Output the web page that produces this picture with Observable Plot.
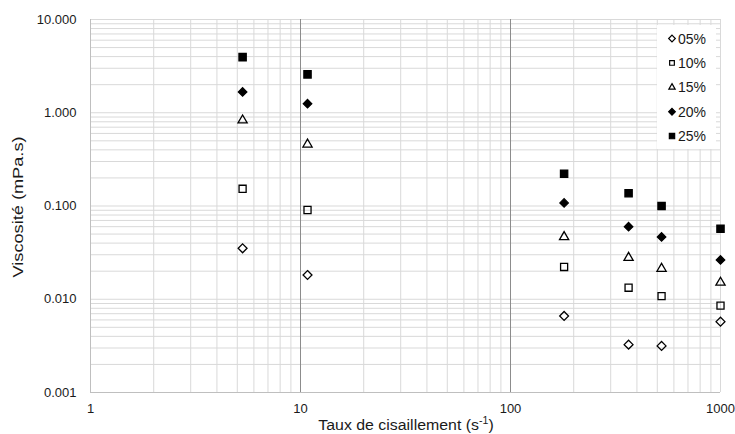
<!DOCTYPE html>
<html><head><meta charset="utf-8">
<script src="https://cdn.jsdelivr.net/npm/d3@7"></script>
<script src="https://cdn.jsdelivr.net/npm/@observablehq/plot@0.6"></script>
<style>
body{margin:0;background:#fff;font-family:"Liberation Sans",Arial,sans-serif;}
#wrap{position:relative;width:735px;height:434px;}
</style></head><body><div id="wrap"></div>
<script>
// ---- data ----
const shearRates = [5.3, 10.8, 180, 365, 524, 1000];
const seriesNames = ["05%", "10%", "15%", "20%", "25%"];
const visc05 = [0.0352, 0.0182, 0.00662, 0.00326, 0.00316, 0.00575];
const visc10 = [0.153, 0.0906, 0.0222, 0.0133, 0.0108, 0.00855];
const visc15 = [0.83, 0.458, 0.0466, 0.0279, 0.0213, 0.0151];
const visc20 = [1.67, 1.25, 0.108, 0.060, 0.0466, 0.0264];
const visc25 = [3.95, 2.58, 0.222, 0.137, 0.100, 0.0571];
const xTicks = [1, 10, 100, 1000];
const xTickLabels = ["1", "10", "100", "1000"];
const yTicks = [0.001, 0.01, 0.1, 1, 10];
const yTickLabels = ["0.001", "0.010", "0.100", "1.000", "10.000"];
const yTitle = "Viscosité (mPa.s)";
const xTitleMain = "Taux de cisaillement (s";
const xTitleSup = "-1";

// ---- styles ----
const styles = {
  "05%": {symbol: "diamond2", fill: "none", r: 4.0},
  "10%": {symbol: "square2", fill: "none", r: 4.5},
  "15%": {symbol: "triangle2", fill: "none", r: 4.4},
  "20%": {symbol: "diamond2", fill: "black", r: 3.8},
  "25%": {symbol: "square", fill: "black", r: 4.1}
};
const seriesValues = [visc05, visc10, visc15, visc20, visc25];
const rows = [];
seriesNames.forEach((s, i) => shearRates.forEach((x, j) => rows.push({series: s, x, y: seriesValues[i][j]})));

// grid helpers (derived from tick decades)
const xMinor = [], yMinor = [];
xTicks.slice(0, -1).forEach(d => d3.range(2, 10).forEach(k => xMinor.push(d * k)));
yTicks.slice(0, -1).forEach(d => d3.range(2, 10).forEach(k => yMinor.push(d * k)));

const xLab = new Map(xTicks.map((t, i) => [t, xTickLabels[i]]));
const yLab = new Map(yTicks.map((t, i) => [t, yTickLabels[i]]));

const light = "#d9d9d9";
const dark = "#8c8c8c";

const chart = Plot.plot({
  width: 735,
  height: 434,
  marginLeft: 90,
  marginRight: 15,
  marginTop: 19,
  marginBottom: 42,
  style: {fontFamily: "'Liberation Sans', Arial, sans-serif", fontSize: "13px", color: "#1a1a1a", background: "white"},
  x: {type: "log", domain: [1, 1000]},
  y: {type: "log", domain: [0.001, 10]},
  marks: [
    Plot.ruleY(yMinor, {stroke: light, strokeWidth: 1}),
    Plot.ruleY(yTicks, {stroke: light, strokeWidth: 1}),
    Plot.ruleX(xMinor, {stroke: light, strokeWidth: 1}),
    Plot.ruleX(xTicks.slice(-1), {stroke: light, strokeWidth: 1}),
    Plot.ruleX(xTicks.slice(1, -1), {stroke: dark, strokeWidth: 1}),
    Plot.ruleX(xTicks.slice(0, 1), {stroke: "#bfbfbf", strokeWidth: 1}),
    Plot.ruleY(yTicks.slice(0, 1), {stroke: "#bfbfbf", strokeWidth: 1}),
    Plot.axisX({ticks: xTicks, tickFormat: d => xLab.get(d), tickSize: 0, tickPadding: 11, fontSize: 13, label: null}),
    Plot.axisY({ticks: yTicks, tickFormat: d => yLab.get(d), tickSize: 0, tickPadding: 14, fontSize: 13, label: null}),
    ...seriesNames.map(s => Plot.dot(rows.filter(d => d.series === s), {
      x: "x", y: "y", symbol: () => styles[s].symbol, r: styles[s].r,
      fill: styles[s].fill, stroke: "black", strokeWidth: 1.3
    }))
  ]
});

document.getElementById("wrap").appendChild(chart);

// titles and legend
const svg = d3.select(chart);
const tx = svg.append("text")
  .attr("transform", "translate(406,430) scale(1.06,1)")
  .attr("text-anchor", "middle")
  .attr("font-size", 15).attr("fill", "#1a1a1a");
tx.append("tspan").text(xTitleMain);
tx.append("tspan").attr("font-size", 10).attr("dy", -6).text(xTitleSup);
tx.append("tspan").attr("dy", 6).text(")");

svg.append("text")
  .attr("transform", "translate(23,207) rotate(-90) scale(1.3,1)")
  .attr("text-anchor", "middle")
  .attr("font-size", 14).attr("fill", "#1a1a1a")
  .text(yTitle);

const lg = svg.append("g");
lg.append("rect").attr("x", 657).attr("y", 25).attr("width", 59).attr("height", 124).attr("fill", "white");
const symMap = {diamond2: d3.symbolDiamond2, square2: d3.symbolSquare2, triangle2: d3.symbolTriangle2, square: d3.symbolSquare};
seriesNames.forEach((s, i) => {
  const cy = 38.5 + i * 24.4;
  const st = styles[s];
  lg.append("path")
    .attr("d", d3.symbol(symMap[st.symbol], Math.PI * 3.0 * 3.0)())
    .attr("transform", `translate(672,${cy})`)
    .attr("fill", st.fill).attr("stroke", "black").attr("stroke-width", 1.2);
  lg.append("text").attr("x", 678).attr("y", cy).attr("dy", "0.36em")
    .attr("text-anchor", "start")
    .attr("font-size", 14).attr("fill", "#1a1a1a").text(s);
});
</script>
</body></html>
